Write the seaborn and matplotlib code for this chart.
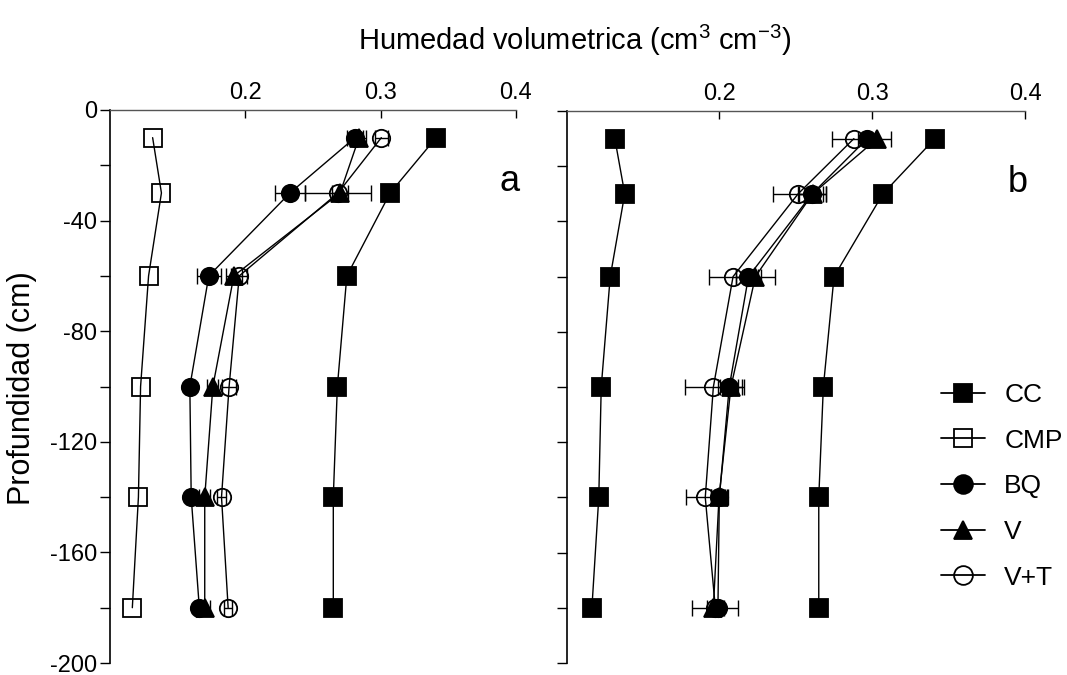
import numpy as np
import pandas as pd
import matplotlib
matplotlib.use("Agg")
import matplotlib.pyplot as plt
from matplotlib.lines import Line2D
import seaborn as sns

# ---- data ----
depth = [-10, -30, -60, -100, -140, -180]
series = ["CC", "CMP", "BQ", "V", "V+T"]

cc = [0.341, 0.307, 0.275, 0.268, 0.265, 0.265]
cmp_ = [0.1315, 0.138, 0.1285, 0.1226, 0.121, 0.1165]

bq_a = [0.281, 0.233, 0.173, 0.159, 0.160, 0.166]
v_a = [0.284, 0.270, 0.1915, 0.176, 0.170, 0.170]
vt_a = [0.3005, 0.2685, 0.1955, 0.188, 0.1824, 0.1873]
bq_a_err = [0.006, 0.011, 0.009, 0.003, 0.003, 0.003]
v_a_err = [0.005, 0.006, 0.006, 0.004, 0.004, 0.004]
vt_a_err = [0.005, 0.0246, 0.006, 0.005, 0.003, 0.003]

bq_b = [0.2967, 0.2607, 0.219, 0.2064, 0.1999, 0.199]
v_b = [0.3033, 0.261, 0.2235, 0.2075, 0.1997, 0.196]
vt_b = [0.288, 0.2515, 0.2089, 0.196, 0.1907, 0.1973]
bq_b_err = [0.006, 0.009, 0.008, 0.006, 0.0055, 0.004]
v_b_err = [0.009, 0.009, 0.0127, 0.0087, 0.005, 0.004]
vt_b_err = [0.0146, 0.0164, 0.016, 0.0186, 0.0127, 0.015]

sns.set_theme(style="ticks")
plt.rcParams["font.family"] = ["Liberation Sans", "DejaVu Sans"]
plt.rcParams["mathtext.fontset"] = "custom"
plt.rcParams["mathtext.rm"] = "Liberation Sans"
plt.rcParams["mathtext.it"] = "Liberation Sans:italic"
plt.rcParams["text.color"] = "black"
plt.rcParams["xtick.color"] = "black"
plt.rcParams["ytick.color"] = "black"
plt.rcParams["xtick.labelcolor"] = "black"
plt.rcParams["ytick.labelcolor"] = "black"

W, H = 1067, 675
fig = plt.figure(figsize=(W / 100, H / 100), dpi=100)

def px_axes(l, r, t, b):
    return [l / W, 1 - b / H, (r - l) / W, (b - t) / H]

ax_a = fig.add_axes(px_axes(110, 516, 110, 663))
ax_b = fig.add_axes(px_axes(566.7, 1025, 111, 663))

ms = 12.5
styles = {
    "CC": dict(marker="s", mfc="black"),
    "CMP": dict(marker="s", mfc="none"),
    "BQ": dict(marker="o", mfc="black"),
    "V": dict(marker="^", mfc="black"),
    "V+T": dict(marker="o", mfc="none"),
}

panels = [
    (ax_a, {"CC": cc, "CMP": cmp_, "BQ": bq_a, "V": v_a, "V+T": vt_a},
     {"BQ": bq_a_err, "V": v_a_err, "V+T": vt_a_err}, "a", False),
    (ax_b, {"CC": cc, "CMP": cmp_, "BQ": bq_b, "V": v_b, "V+T": vt_b},
     {"BQ": bq_b_err, "V": v_b_err, "V+T": vt_b_err}, "b", True),
]

for ax, vals, errs, letter, cmp_filled in panels:
    rows = []
    for s in series:
        for d, v in zip(depth, vals[s]):
            rows.append({"serie": s, "depth": d, "hum": v})
    df = pd.DataFrame(rows)
    for s in series:
        sub = df[df["serie"] == s]
        st = dict(styles[s])
        if s == "CMP" and cmp_filled:
            st["mfc"] = "black"
        sns.lineplot(data=sub, x="hum", y="depth", sort=False, estimator=None,
                     ax=ax, color="black", lw=1.0, marker=st["marker"],
                     markersize=ms, markerfacecolor=st["mfc"],
                     markeredgecolor="black", markeredgewidth=1.3,
                     legend=False, zorder=2)
        if s in errs:
            ax.errorbar(vals[s], depth, xerr=errs[s], fmt="none",
                        ecolor="black", elinewidth=1.0, capsize=5.5,
                        capthick=1.0, zorder=3)
    ax.set_xlim(0.1, 0.4)
    ax.set_ylim(-200, 0)
    ax.xaxis.tick_top()
    ax.set_xticks([0.2, 0.3, 0.4])
    ax.set_xticklabels(["0.2", "0.3", "0.4"])
    ax.tick_params(axis="x", direction="in", length=6, width=1, labelsize=17,
                   pad=4, top=True, bottom=False)
    yt = list(range(0, -201, -20))
    ax.set_yticks(yt)
    if letter == "a":
        ax.set_yticklabels([str(v) if v % 40 == 0 else "" for v in yt])
    else:
        ax.set_yticklabels([""] * len(yt))
    ax.tick_params(axis="y", direction="out", length=7, width=1, labelsize=17,
                   pad=2)
    for sp in ["right", "bottom"]:
        ax.spines[sp].set_visible(False)
    ax.spines["top"].set_color("#555555")
    ax.spines["top"].set_linewidth(1.0)
    ax.spines["left"].set_color("black")
    ax.spines["left"].set_linewidth(1.2)
    ax.set_xlabel("")
    ax.set_ylabel("")
    ax.text(0.395, -26, letter, fontsize=26, ha="center", va="center")

fig.text(575 / W, 1 - 40 / H, "Humedad volumetrica (cm$^3$ cm$^{-3}$)",
         fontsize=21, ha="center", va="center")
fig.text(22 / W, 1 - 388 / H, "Profundidad (cm)", fontsize=22, rotation=90,
         ha="center", va="center")

handles = []
for s in series:
    st = styles[s]
    handles.append(Line2D([0], [0], color="black", lw=1.3, marker=st["marker"],
                          markersize=ms + 1, markerfacecolor=st["mfc"],
                          markeredgecolor="black", markeredgewidth=1.3))
leg = ax_b.legend(handles, series, loc="upper left",
                  bbox_to_anchor=(941 / W, 1 - 383 / H),
                  bbox_transform=fig.transFigure, frameon=False, fontsize=19,
                  borderpad=0, borderaxespad=0, handlelength=1.65,
                  handletextpad=0.75, labelspacing=0.82)

fig.savefig("out.png", dpi=100)
